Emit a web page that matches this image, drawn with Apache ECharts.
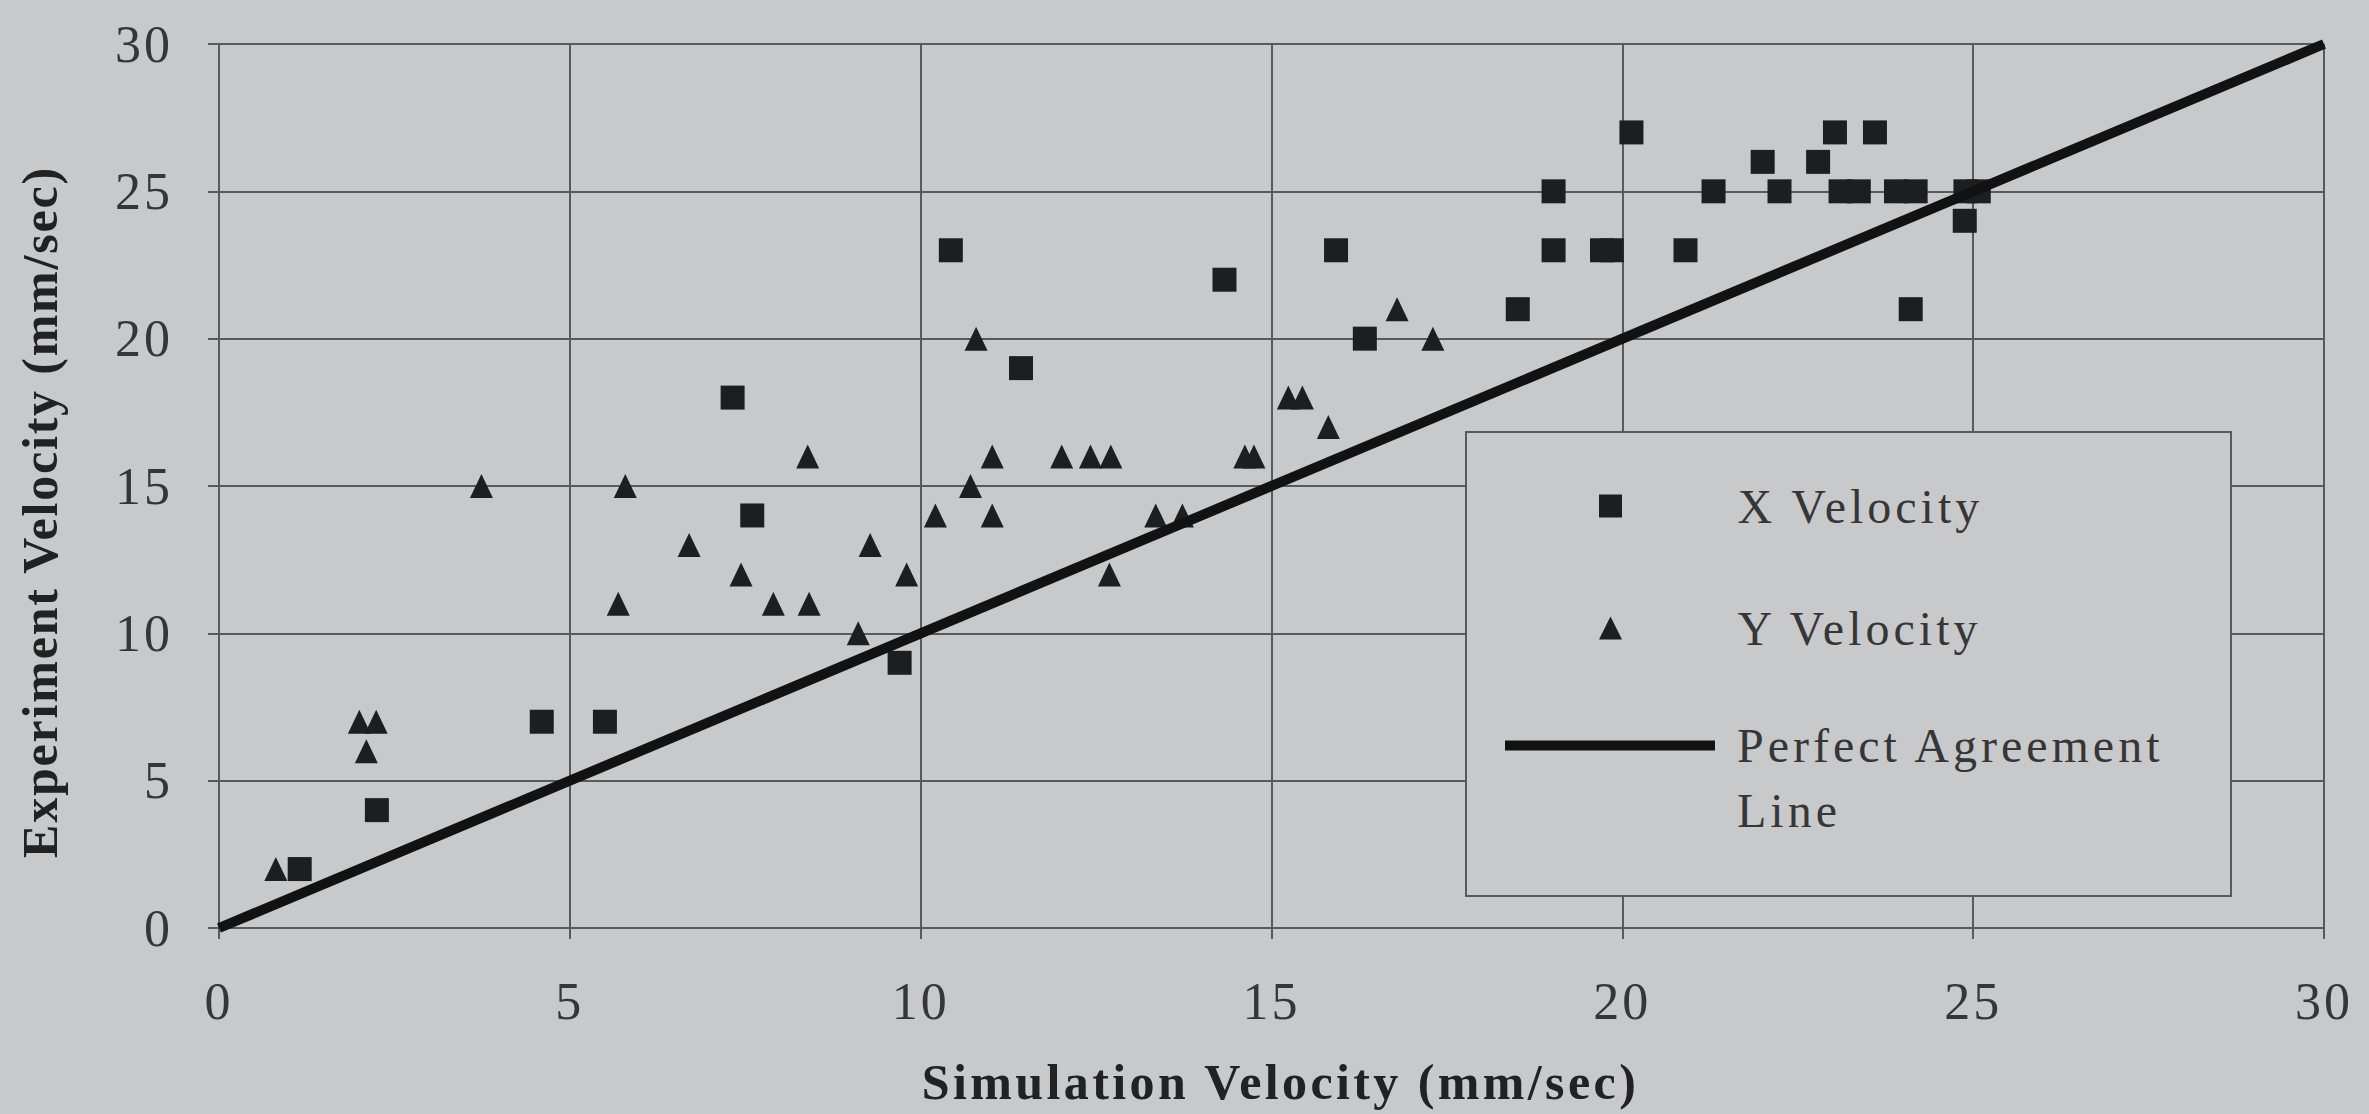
<!DOCTYPE html>
<html>
<head>
<meta charset="utf-8">
<style>
html, body { margin: 0; padding: 0; background: #c8c9cb; }
#chart { width: 2369px; height: 1114px; }
#chart text { letter-spacing: 3px; }
</style>
<script src="https://cdn.jsdelivr.net/npm/echarts@6/dist/echarts.min.js"></script>
</head>
<body>
<div id="chart"></div>
<script>
// ---- data ----
const xVelSim = [1.15, 2.25, 4.6, 5.5, 7.32, 7.6, 9.7, 10.43, 11.43, 14.33, 15.92, 16.33, 18.51, 19.02, 19.02, 19.71, 19.85, 20.13, 20.9, 21.3, 22.0, 22.24, 22.79, 23.03, 23.11, 23.37, 23.6, 23.9, 24.18, 24.11, 24.89, 25.08, 24.88];
const xVelExp = [2, 4, 7, 7, 18, 14, 9, 23, 19, 22, 23, 20, 21, 25, 23, 23, 23, 27, 23, 25, 26, 25, 26, 27, 25, 25, 27, 25, 25, 21, 25, 25, 24];

const yVelSim = [0.81, 2.0, 2.24, 2.1, 3.74, 5.69, 5.79, 6.7, 7.44, 7.9, 8.39, 8.41, 9.11, 9.28, 9.8, 10.21, 10.71, 10.79, 11.02, 11.02, 12.01, 12.42, 12.71, 12.69, 13.35, 13.73, 14.62, 14.75, 15.24, 15.44, 15.81, 16.79, 17.3];
const yVelExp = [2, 7, 7, 6, 15, 11, 15, 13, 12, 11, 16, 11, 10, 13, 12, 14, 15, 20, 16, 14, 16, 16, 16, 12, 14, 14, 16, 16, 18, 18, 17, 21, 20];

const agreementEnds = [0, 30];
const axisMin = 0, axisMax = 30, axisStep = 5;

const seriesNames = ['X Velocity', 'Y Velocity', 'Perfect Agreement Line'];
const agreementLegendLines = ['Perfect Agreement', 'Line'];
const xAxisTitle = 'Simulation Velocity (mm/sec)';
const yAxisTitle = 'Experiment Velocity (mm/sec)';

// ---- styling ----
const bg = '#c8c9cb';
const ink = '#1c1f21';
const gridColor = '#58595b';
const labelColor = '#363636';
const titleColor = '#222222';
const serif = "'Liberation Serif', 'Times New Roman', serif";

const chart = echarts.init(document.getElementById('chart'), null, { renderer: 'svg', width: 2369, height: 1114 });

const axisCommon = {
  type: 'value',
  min: axisMin,
  max: axisMax,
  interval: axisStep,
  nameLocation: 'middle',
  nameMoveOverlap: false,
  axisLine: { show: true, onZero: false, lineStyle: { color: gridColor, width: 2 } },
  axisTick: { show: true, inside: false, length: 11, lineStyle: { color: gridColor, width: 2 } },
  splitLine: { show: true, lineStyle: { color: gridColor, width: 2 } }
};

const option = {
  backgroundColor: bg,
  animation: false,
  grid: { left: 219, right: 45, top: 44, bottom: 186, containLabel: false, outerBoundsMode: 'none' },
  xAxis: Object.assign({}, axisCommon, {
    name: xAxisTitle,
    nameGap: 129,
    nameTextStyle: { fontFamily: serif, fontWeight: 'bold', fontSize: 50, lineHeight: 50, color: titleColor, padding: [0, 0, 0, 18] },
    axisLabel: { margin: 47, fontFamily: serif, fontSize: 52, lineHeight: 52, color: labelColor }
  }),
  yAxis: Object.assign({}, axisCommon, {
    name: yAxisTitle,
    nameRotate: 90,
    nameGap: 154,
    nameTextStyle: { fontFamily: serif, fontWeight: 'bold', fontSize: 50, lineHeight: 50, color: titleColor, padding: [0, 52, 0, 0] },
    axisLabel: { margin: 46, fontFamily: serif, fontSize: 52, lineHeight: 52, color: labelColor }
  }),
  graphic: [{
    type: 'rect',
    z: 100,
    shape: { x: 1466, y: 432, width: 765, height: 464 },
    style: { fill: bg, stroke: gridColor, lineWidth: 2 }
  }],
  legend: [
    {
      orient: 'vertical',
      left: 1599, top: 476, padding: 0, itemGap: 62,
      itemWidth: 210, itemHeight: 23, symbolKeepAspect: true,
      selectedMode: false, z: 110,
      data: [
        { name: seriesNames[0], icon: 'path://M0,0H10V10H0Z', itemStyle: { color: ink } },
        { name: seriesNames[1], icon: 'path://M5,0L10,10L0,10Z', itemStyle: { color: ink } }
      ],
      textStyle: { fontFamily: serif, fontSize: 48, lineHeight: 60, color: labelColor, padding: [0, 0, 0, 17] }
    },
    {
      orient: 'vertical',
      left: 1505, top: 648, padding: 0,
      itemWidth: 210, itemHeight: 10, symbolKeepAspect: true,
      selectedMode: false, z: 110,
      data: [
        { name: seriesNames[2], icon: 'path://M0,0H210V10H0Z', itemStyle: { color: '#121212' } }
      ],
      formatter: function () { return ' \n' + agreementLegendLines.join('\n'); },
      textStyle: { fontFamily: serif, fontSize: 48, lineHeight: 65, color: labelColor, padding: [0, 0, 0, 17] }
    }
  ],
  series: [
    {
      name: seriesNames[0],
      type: 'scatter',
      symbol: 'rect',
      symbolSize: [24, 24],
      itemStyle: { color: ink, opacity: 1 },
      data: xVelSim.map((v, i) => [v, xVelExp[i]])
    },
    {
      name: seriesNames[1],
      type: 'scatter',
      symbol: 'triangle',
      symbolSize: [23, 24],
      itemStyle: { color: ink, opacity: 1 },
      data: yVelSim.map((v, i) => [v, yVelExp[i]])
    },
    {
      name: seriesNames[2],
      type: 'line',
      symbol: 'none',
      clip: false,
      lineStyle: { color: '#121212', width: 10 },
      itemStyle: { color: '#121212' },
      data: agreementEnds.map(v => [v, v])
    }
  ]
};

// letter spacing per text kind (the reference uses widely tracked type)
function applySpacing() {
  const texts = document.querySelectorAll('#chart svg text');
  texts.forEach(function (t) {
    const s = (t.textContent || '').trim();
    let ls = '3px';
    if (s === xAxisTitle) ls = '3.4px';
    else if (s === yAxisTitle) ls = '1.8px';
    else if (seriesNames.indexOf(s) >= 0 || agreementLegendLines.indexOf(s) >= 0) ls = '4px';
    t.style.letterSpacing = ls;
  });
}

chart.on('finished', applySpacing);
chart.setOption(option);
applySpacing();
setTimeout(applySpacing, 50);
</script>
</body>
</html>
